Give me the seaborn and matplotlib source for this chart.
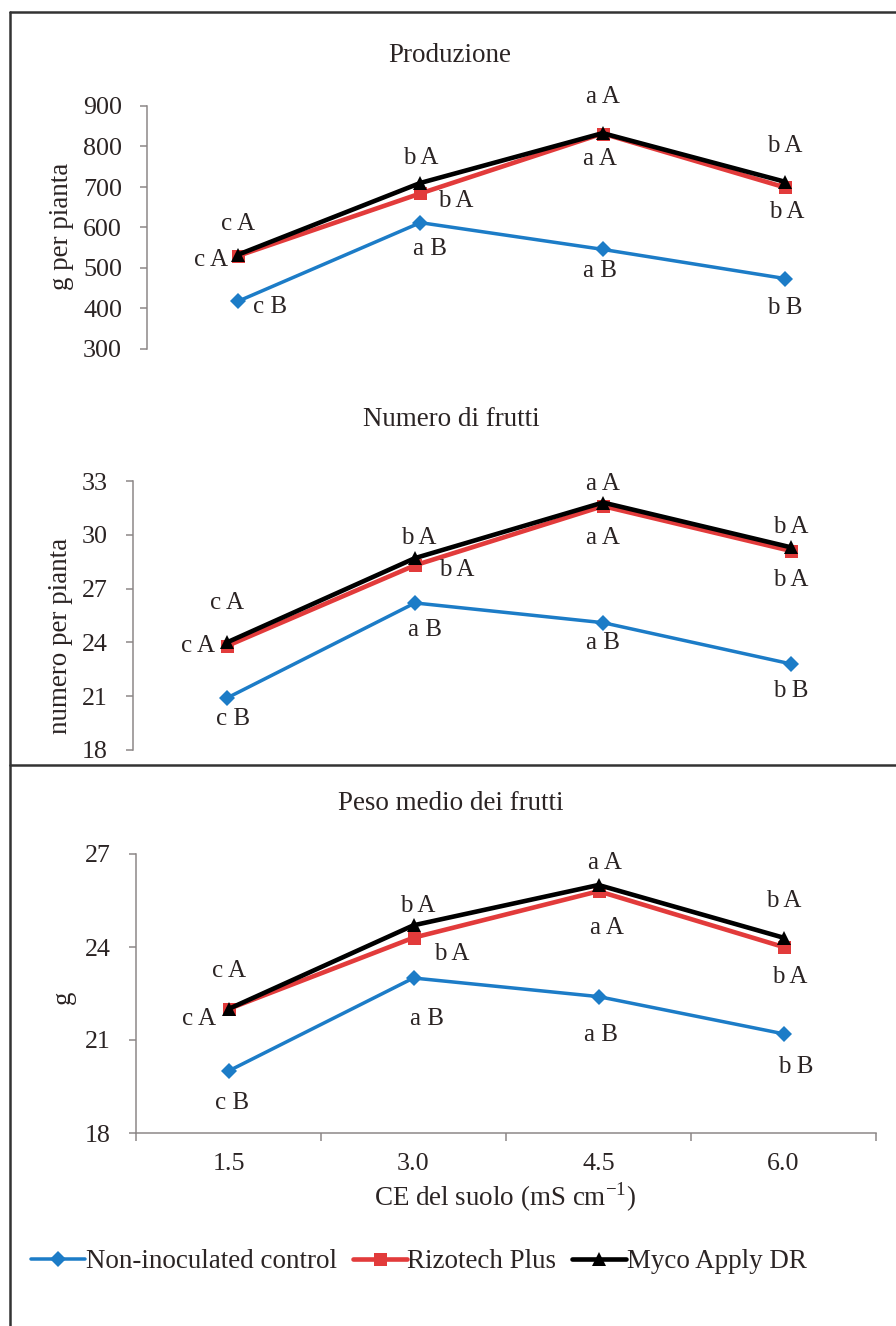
import matplotlib
matplotlib.use('Agg')
import matplotlib.pyplot as plt
import seaborn as sns
from matplotlib.lines import Line2D

# dati
ce_levels = ['1.5', '3.0', '4.5', '6.0']
series_names = ['Non-inoculated control', 'Rizotech Plus', 'Myco Apply DR']

prod_control = [418, 612, 546, 474]
prod_rizotech = [530, 684, 832, 699]
prod_myco = [533, 710, 833, 713]

frutti_control = [20.9, 26.2, 25.1, 22.8]
frutti_rizotech = [23.8, 28.3, 31.6, 29.1]
frutti_myco = [24.0, 28.7, 31.8, 29.3]

peso_control = [20.0, 23.0, 22.4, 21.2]
peso_rizotech = [22.0, 24.3, 25.8, 24.0]
peso_myco = [22.0, 24.7, 26.0, 24.3]

# lettere (test statistico)
prod_lab_control = ['c B', 'a B', 'a B', 'b B']
prod_lab_rizotech = ['c A', 'b A', 'a A', 'b A']
prod_lab_myco = ['c A', 'b A', 'a A', 'b A']
frutti_lab_control = ['c B', 'a B', 'a B', 'b B']
frutti_lab_rizotech = ['c A', 'b A', 'a A', 'b A']
frutti_lab_myco = ['c A', 'b A', 'a A', 'b A']
peso_lab_control = ['c B', 'a B', 'a B', 'b B']
peso_lab_rizotech = ['c A', 'b A', 'a A', 'b A']
peso_lab_myco = ['c A', 'b A', 'a A', 'b A']

sns.set_style('white')
plt.rcParams['font.family'] = ['Liberation Serif', 'DejaVu Serif']
plt.rcParams['mathtext.fontset'] = 'custom'
plt.rcParams['mathtext.rm'] = 'Liberation Serif'

FS = 27
TICK_FS = 26
ANN_FS = 25
colors = ['#1c7cc7', '#e23b3b', '#000000']
markers = ['D', 's', '^']
msizes = [12, 13, 14]
lws = [3.5, 4.6, 4.6]
axis_col = '#8a8585'
text_col = '#2b2424'

# offset (px) delle etichette: controllo, rizotech, myco
offs_prod = [
    [(32, -6), (10, -26), (-3, -22), (0, -29)],
    [(-27, -4), (35, -8), (-3, -25), (2, -25)],
    [(0, 31), (0, 25), (0, 36), (0, 36)],
]
offs_frutti = [
    [(6, -21), (10, -27), (0, -20), (0, -27)],
    [(-29, 0), (42, -5), (0, -32), (0, -29)],
    [(0, 39), (4, 20), (0, 19), (0, 20)],
]
offs_peso = [
    [(4, -32), (13, -41), (2, -38), (12, -33)],
    [(-29, -10), (38, -16), (8, -37), (6, -30)],
    [(0, 38), (4, 19), (6, 22), (0, 37)],
]

fig = plt.figure(figsize=(896 / 72, 1326 / 72), dpi=72)
W, H = 896, 1326


def px_axes(x0, x1, ytop, ybot):
    return fig.add_axes([x0 / W, 1 - ybot / H, (x1 - x0) / W, (ybot - ytop) / H])


ax1 = px_axes(147, 876, 106, 349)
ax2 = px_axes(133, 885, 481, 750)
ax3 = px_axes(136, 876, 854, 1133)

panels = [
    (ax1, [prod_control, prod_rizotech, prod_myco],
     [prod_lab_control, prod_lab_rizotech, prod_lab_myco], offs_prod,
     (300, 900), [300, 400, 500, 600, 700, 800, 900]),
    (ax2, [frutti_control, frutti_rizotech, frutti_myco],
     [frutti_lab_control, frutti_lab_rizotech, frutti_lab_myco], offs_frutti,
     (18, 33), [18, 21, 24, 27, 30, 33]),
    (ax3, [peso_control, peso_rizotech, peso_myco],
     [peso_lab_control, peso_lab_rizotech, peso_lab_myco], offs_peso,
     (18, 27), [18, 21, 24, 27]),
]

for ax, series, labels, offs, ylim, yticks in panels:
    for i, vals in enumerate(series):
        sns.lineplot(x=ce_levels, y=vals, ax=ax, color=colors[i], marker=markers[i],
                     markersize=msizes[i], markeredgewidth=0, linewidth=lws[i],
                     label=series_names[i], legend=False, zorder=2 + i)
        for j, lab in enumerate(labels[i]):
            ax.annotate(lab, (j, vals[j]), xytext=offs[i][j], textcoords='offset points',
                        ha='center', va='center', fontsize=ANN_FS, color=text_col,
                        annotation_clip=False)
    ax.set_xlim(-0.5, 3.5)
    ax.set_ylim(*ylim)
    ax.set_yticks(yticks)
    ax.set_xlabel('')
    ax.set_ylabel('')
    sns.despine(ax=ax, top=True, right=True)
    ax.spines['left'].set_color(axis_col)
    ax.spines['left'].set_linewidth(1.5)
    ax.tick_params(axis='y', left=True, length=7, width=1.5, color=axis_col,
                   labelsize=TICK_FS, labelcolor=text_col, pad=18)
    ax.patch.set_alpha(0)

for ax in (ax1, ax2):
    ax.spines['bottom'].set_visible(False)
    ax.set_xticks([])

ax3.spines['bottom'].set_color(axis_col)
ax3.spines['bottom'].set_linewidth(1.5)
ax3.set_xticks(range(4))
ax3.set_xticklabels(ce_levels)
ax3.set_xticks([-0.5, 0.5, 1.5, 2.5, 3.5], minor=True)
ax3.tick_params(axis='x', which='major', length=0, labelsize=TICK_FS, labelcolor=text_col, pad=20)
ax3.tick_params(axis='x', which='minor', bottom=True, length=8, width=1.5, color=axis_col)

# titoli e assi
fig.text(450 / W, 1 - 55 / H, 'Produzione', ha='center', va='center', fontsize=FS, color=text_col)
fig.text(451 / W, 1 - 420 / H, 'Numero di frutti', ha='center', va='center', fontsize=FS, color=text_col)
fig.text(451 / W, 1 - 803 / H, 'Peso medio dei frutti', ha='center', va='center', fontsize=FS, color=text_col)
fig.text(62 / W, 1 - 226 / H, 'g per pianta', rotation=90, ha='center', va='center', fontsize=FS, color=text_col)
fig.text(61 / W, 1 - 636 / H, 'numero per pianta', rotation=90, ha='center', va='center', fontsize=FS, color=text_col)
fig.text(63 / W, 1 - 997 / H, 'g', rotation=90, ha='center', va='center', fontsize=FS, color=text_col)
fig.text(505 / W, 1 - 1197 / H, r'CE del suolo (mS cm$^{-1}$)', ha='center', va='center',
         fontsize=FS, color=text_col)

handles, labs = ax3.get_legend_handles_labels()
fig.legend(handles, labs, loc='center left', bbox_to_anchor=(31 / W, 1 - 1262 / H), ncol=3,
           frameon=False, fontsize=FS, handlelength=2.0, handletextpad=0.02,
           columnspacing=0.6, borderpad=0, borderaxespad=0, labelcolor=text_col)

# cornice
frame_kw = dict(color='#333333', linewidth=2.5, transform=fig.transFigure)
fig.add_artist(Line2D([10 / W, 10 / W], [0, 1 - 12 / H], **frame_kw))
fig.add_artist(Line2D([10 / W, 1], [1 - 12 / H, 1 - 12 / H], **frame_kw))
fig.add_artist(Line2D([10 / W, 1], [1 - 765 / H, 1 - 765 / H], **frame_kw))

fig.savefig('out.png', dpi=72, facecolor='white')
